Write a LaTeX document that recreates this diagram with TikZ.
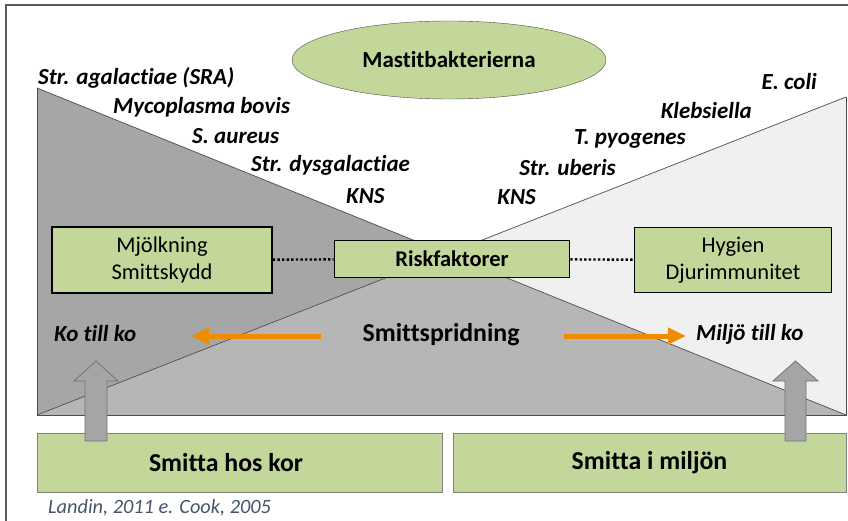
\documentclass[tikz,border=0pt]{standalone}
\usepackage{fontspec}
\setmainfont[Ligatures=NoCommon]{Carlito}
\usetikzlibrary{shapes.geometric,arrows.meta}

\definecolor{boxgreen}{HTML}{C4D79B}
\definecolor{darkarea}{HTML}{A6A6A6}
\definecolor{midarea}{HTML}{B6B6B6}
\definecolor{lightarea}{HTML}{F0F0F0}
\definecolor{spreadorange}{HTML}{F08C00}
\definecolor{upgray}{HTML}{A5A5A5}
\definecolor{framegray}{HTML}{5A5A5A}
\definecolor{refblue}{HTML}{44546A}

\tikzset{
  species/.style={inner sep=0pt, font=\fontsize{23}{25}\selectfont\bfseries\itshape},
  factor/.style={draw, line width=1.6pt, fill=boxgreen, align=center, inner sep=0pt,
    font=\fontsize{22.5}{27}\selectfont},
  source/.style={draw=gray, fill=boxgreen, inner sep=0pt, font=\fontsize{25.8}{28}\selectfont\bfseries},
  spread/.style={spreadorange, line width=5pt, -{Triangle[length=18pt,width=16pt]}},
  uparrow/.style={fill=upgray, draw=gray!90!black, line width=0.8pt},
  edge/.style={draw=black!70, line width=0.7pt}
}

\begin{document}
\begin{tikzpicture}[x=1pt,y=-1pt]
\useasboundingbox (0,0) rectangle (848,521);

% frame
\draw[framegray, line width=2pt] (6,521) -- (6,5) -- (848,5);

% corners of the two wedges
\coordinate (tl) at (37,88);
\coordinate (bl) at (37,415);
\coordinate (br) at (846,415);
\coordinate (tr) at (846,97);
\coordinate (mid) at (447,254);

\fill[darkarea] (tl) -- (bl) -- (br) -- cycle;
\fill[lightarea] (tr) -- (br) -- (bl) -- cycle;
\fill[midarea] (bl) -- (mid) -- (br) -- cycle;
\path[edge] (tl) -- (br);
\path[edge] (bl) -- (tr);
\path[edge] (tl) -- (bl) -- (br) -- (tr);

\node[draw=black!70, fill=boxgreen, ellipse, minimum width=314pt, minimum height=78pt,
  font=\fontsize{23}{25}\selectfont\bfseries] (bakt) at (449,60) {Mastitbakterierna};

% cow to cow
\node[species, anchor=west] (sra) at (38,78) {Str. agalactiae (SRA)};
\node[species, anchor=west] (myco) at (113,107) {Mycoplasma bovis};
\node[species, anchor=west] (saur) at (192,136) {S. aureus};
\node[species, anchor=west] (sdys) at (251,165) {Str. dysgalactiae};
\node[species, anchor=west] (knsl) at (346,196) {KNS};

% environment
\node[species, anchor=east] (ecoli) at (817,82) {E. coli};
\node[species, anchor=east] (kleb) at (752,111) {Klebsiella};
\node[species, anchor=east] (tpyo) at (686,139) {T. pyogenes};
\node[species, anchor=east] (suber) at (616,168) {Str. uberis};
\node[species, anchor=east] (knsr) at (536,197) {KNS};

\node[factor, minimum width=220pt, minimum height=66pt] (mjolk) at (162,260) {Mjölkning\\Smittskydd};
\node[factor, minimum width=235pt, minimum height=37pt, font=\fontsize{22.5}{24}\selectfont\bfseries] (risk) at (452,259) {Riskfaktorer};
\node[factor, minimum width=197pt, minimum height=65pt] (hyg) at (733,260) {Hygien\\Djurimmunitet};

\path[draw, line width=2.4pt, dash pattern=on 2.4pt off 2.2pt] (mjolk) -- (risk);
\path[draw, line width=2.4pt, dash pattern=on 2.4pt off 2.2pt] (risk) -- (hyg);

\node[species, anchor=west] (kotill) at (54,334) {Ko till ko};
\node[species, anchor=west] (miljotill) at (696,334) {Miljö till ko};
\node[inner sep=0pt, font=\fontsize{25.8}{28}\selectfont\bfseries] (sprid) at (441,335) {Smittspridning};

\coordinate (ostart) at (321,336);
\coordinate (oend) at (191,336);
\coordinate (pstart) at (564,336);
\coordinate (pend) at (686,336);
\draw[spread] (ostart) -- (oend);
\draw[spread] (pstart) -- (pend);

\node[source, minimum width=405pt, minimum height=59pt] (kor) at (239.5,462.5) {Smitta hos kor\hspace*{27pt}};
\node[source, minimum width=393pt, minimum height=59pt] (miljo) at (649.5,462.5) {Smitta i miljön};

% block arrows up
\path[uparrow] (85,441) -- (85,381) -- (74,381) -- (96,361) -- (118,381) -- (107,381) -- (107,441) -- cycle;
\path[uparrow] (785,441) -- (785,381) -- (773,381) -- (795.5,361) -- (818,381) -- (806,381) -- (806,441) -- cycle;

\node[inner sep=0pt, anchor=west, text=refblue, font=\fontsize{20.3}{22}\selectfont\itshape] (ref) at (48,508) {Landin, 2011 e. Cook, 2005};
\end{tikzpicture}
\end{document}
